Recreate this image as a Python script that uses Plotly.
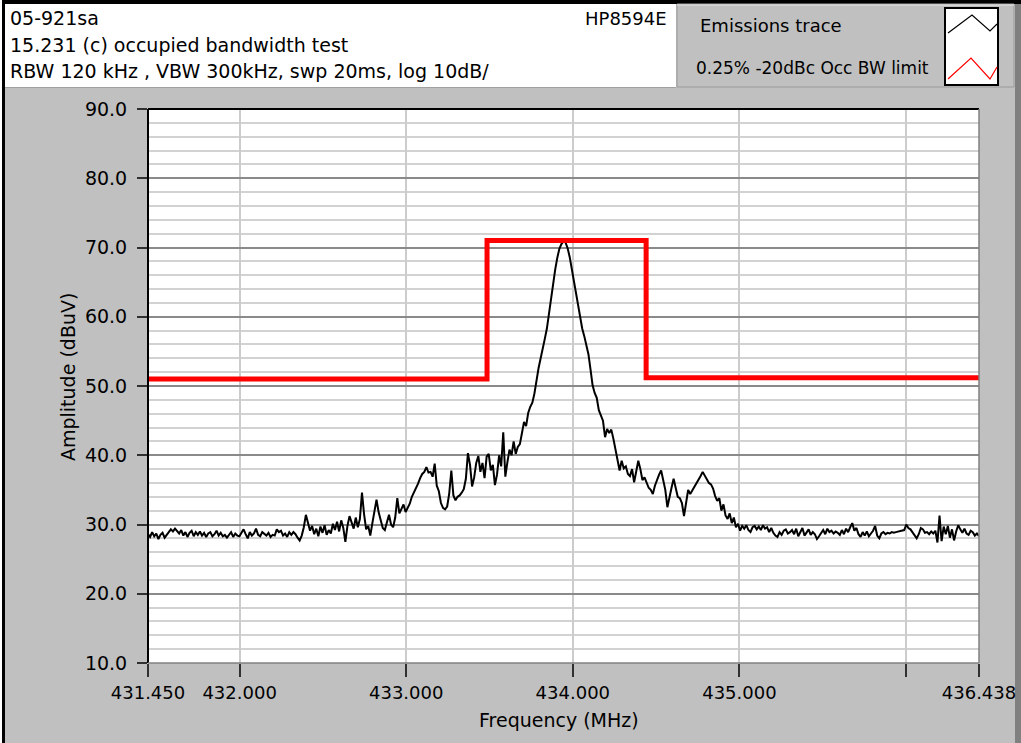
import numpy as np
import plotly.graph_objects as go

# ---------------- data ----------------
F_START = 431.450
F_STOP = 436.438
N_POINTS = 401

emissions_dbuv = [
    28.6, 28.2, 28.9, 28.3, 28.7, 27.9, 28.5, 28.8, 28.1, 28.6,
    28.9, 29.3, 29.0, 29.4, 29.1, 28.7, 29.2, 28.4, 28.9, 28.2,
    28.8, 29.1, 28.3, 28.9, 28.5, 29.0, 28.4, 28.8, 28.2, 28.7,
    28.9, 28.3, 28.6, 29.1, 28.4, 28.8, 28.3, 28.5, 28.1, 28.6,
    28.9, 28.2, 28.7, 28.4, 28.3, 28.8, 29.3, 28.6, 28.0, 28.9,
    28.4, 28.7, 29.4, 28.5, 28.3, 28.9, 28.6, 28.4, 28.8, 28.2,
    28.5, 28.4, 29.3, 28.9, 29.1, 28.4, 28.7, 28.2, 28.9, 28.5,
    28.9, 28.6, 28.1, 27.7, 28.4, 29.6, 31.4, 30.2, 29.1, 29.8,
    28.6, 29.4, 28.3, 29.7, 28.8, 29.9, 28.5, 29.2, 28.7, 30.1,
    29.2, 30.4, 29.0, 30.6, 29.5, 27.5, 29.8, 31.2, 30.1, 29.4,
    31.0, 29.6, 30.8, 34.6, 31.5, 29.3, 29.8, 28.4, 30.2, 31.9,
    33.6, 31.8, 30.4, 29.5, 29.2, 30.3, 31.4, 30.0, 29.6, 31.0,
    33.8, 31.6, 32.2, 32.9, 31.8, 32.4, 33.0, 34.0, 34.6, 35.2,
    35.9, 36.7, 37.3, 37.6, 38.3, 37.5, 37.6, 36.9, 38.8, 35.6,
    34.8, 33.1, 32.4, 32.2, 32.6, 34.5, 37.8, 34.2, 33.5, 34.0,
    34.2, 34.6, 35.1, 36.6, 40.3, 38.6, 35.5, 36.8, 38.9, 39.9,
    37.6, 38.9, 36.7, 39.8, 40.2, 37.8, 38.6, 35.7, 37.2, 40.0,
    38.4, 43.3, 36.9, 39.0, 40.8, 40.0, 42.0, 40.2, 41.2, 41.6,
    43.1, 44.8, 44.2, 46.1, 47.0, 47.6, 48.9, 51.0, 52.6, 54.0,
    55.2, 56.8, 58.3, 60.5, 62.8, 65.0, 66.8, 68.5, 69.8, 70.5,
    70.9, 70.7, 69.9, 68.6, 66.9, 65.0, 63.4, 61.6, 59.8, 58.3,
    57.2, 56.1, 54.6, 52.4, 50.1, 49.0, 48.3, 46.5, 45.6, 45.0,
    42.6, 43.8, 43.2, 43.7, 42.4, 41.0, 39.6, 37.8, 39.2, 38.1,
    38.4, 37.3, 37.0, 38.0, 36.1, 37.6, 39.2, 38.0, 36.4, 36.8,
    35.9, 35.3, 35.0, 34.4, 35.6, 36.5, 37.2, 37.8, 36.2, 35.0,
    32.5, 34.2, 35.3, 36.6, 35.1, 34.0, 33.8, 33.1, 31.2, 33.4,
    35.0, 34.4, 34.9, 35.3, 35.8, 36.4, 37.0, 37.6, 37.0, 36.5,
    36.0, 35.8, 35.2, 34.1, 33.4, 33.8, 32.0, 32.9, 31.3, 30.8,
    31.6, 30.2, 31.0, 29.6, 30.1, 29.1, 29.8, 29.4, 29.9, 29.2,
    28.9, 29.6, 29.8, 29.3, 29.7, 29.2, 29.9, 29.4, 29.6, 28.9,
    29.5, 28.8, 28.4, 28.2, 28.9, 28.5, 29.1, 29.3, 28.7, 28.9,
    29.2, 28.6, 29.4, 28.3, 29.0, 29.5, 28.4, 28.8, 29.3, 28.5,
    28.9, 28.6, 27.9, 28.3, 28.8, 29.2, 28.6, 29.4, 28.9, 29.1,
    28.7, 29.0, 28.8, 28.5, 29.2, 28.6, 29.4, 28.9, 29.6, 30.2,
    29.1, 29.5, 28.6, 28.2, 28.9, 28.4, 29.0, 28.3, 28.7, 29.1,
    29.8, 28.4, 28.0, 28.7, 28.9, 28.6, 28.8, 28.7, 28.9, 28.8,
    28.9, 29.0, 29.0, 29.1, 29.2, 30.0, 29.5, 29.3, 28.8, 28.4,
    28.0, 28.6, 29.5, 29.3, 28.8, 28.9, 28.6, 29.0, 28.7, 29.1,
    27.4, 31.3, 27.6, 29.7, 28.6, 29.8, 28.1, 29.3, 27.7, 29.0,
    29.9, 29.3, 28.8, 29.4, 28.7, 28.5, 29.1, 28.9, 28.4, 28.7, 28.3,
]

limit_freq_mhz = [431.450, 433.485, 433.485, 434.440, 434.440, 436.438]
limit_dbuv = [51.0, 51.0, 71.0, 71.0, 51.2, 51.2]

x_tick_vals = [431.450, 432.0, 433.0, 434.0, 435.0, 436.0, 436.438]
x_tick_text = ["431.450", "432.000", "433.000", "434.000", "435.000", "", "436.438"]
y_tick_vals = [10, 20, 30, 40, 50, 60, 70, 80, 90]

header_lines = [
    "05-921sa",
    "15.231 (c) occupied bandwidth test",
    "RBW 120 kHz , VBW 300kHz, swp 20ms, log 10dB/",
]
instrument = "HP8594E"
legend_names = ["Emissions trace", "0.25% -20dBc Occ BW limit"]

freq_mhz = np.linspace(F_START, F_STOP, N_POINTS)

# ---------------- layout geometry (pixels) ----------------
W_PX, H_PX = 1021, 743
L, R, T, B = 148, 979, 109, 663
PW, PH = R - L, B - T


def px(x):
    return (x - L) / PW


def py(y):
    return (B - y) / PH


FONT = "DejaVu Sans"
GRAY = "#c0c0c0"

fig = go.Figure()
fig.add_trace(go.Scatter(
    x=freq_mhz, y=emissions_dbuv, mode="lines", name=legend_names[0],
    line=dict(color="black", width=2), showlegend=False,
))
fig.add_trace(go.Scatter(
    x=limit_freq_mhz, y=limit_dbuv, mode="lines", name=legend_names[1],
    line=dict(color="#ff0000", width=5), showlegend=False,
))

shapes = []


def rect(x0, y0, x1, y1, fill, line_color=None, lw=0, layer="above"):
    shapes.append(dict(
        type="rect", xref="paper", yref="paper",
        x0=px(x0), x1=px(x1), y0=py(y1), y1=py(y0),
        fillcolor=fill, line=dict(color=line_color or fill, width=lw),
        layer=layer,
    ))


def line(x0, y0, x1, y1, color, lw, layer="above"):
    shapes.append(dict(
        type="line", xref="paper", yref="paper",
        x0=px(x0), x1=px(x1), y0=py(y0), y1=py(y1),
        line=dict(color=color, width=lw), layer=layer,
    ))


# outer frame
rect(0, 0, 2, 743, "white")
rect(2, 0, 1021, 4, "black")
rect(2, 0, 5, 743, "black")
rect(1015, 4, 1021, 743, "#808080", layer="below")
# header box
rect(5, 4, 676, 87, "white")
line(5, 87.5, 676, 87.5, "#a0a0a0", 1)
# legend box
rect(677, 4, 1014, 87, GRAY, "#9a9a9a", 1)
line(677, 5, 1014, 5, "#e8e8e8", 1)
rect(945, 8, 998, 85, "white", "black", 2)
shapes.append(dict(
    type="path", xref="paper", yref="paper",
    path="M {},{} L {},{} L {},{} L {},{}".format(
        px(948), py(33), px(972), py(15), px(990), py(31), px(997), py(24)),
    line=dict(color="black", width=1.2),
))
shapes.append(dict(
    type="path", xref="paper", yref="paper",
    path="M {},{} L {},{} L {},{} L {},{}".format(
        px(948), py(79), px(971), py(58), px(990), py(79), px(997), py(67)),
    line=dict(color="#ff0000", width=1.2),
))
# plot frame
line(L, T, R, T, "black", 2)
line(L, T, L, B, "black", 2)
line(R, T, R, B, "#808080", 1.5)
line(L, B, R, B, "#808080", 1.5)

annotations = []


def text(x, y, s, size, xanchor="left", angle=0):
    annotations.append(dict(
        xref="paper", yref="paper", x=px(x), y=py(y), text=s,
        showarrow=False, xanchor=xanchor, yanchor="middle",
        textangle=angle, font=dict(family=FONT, size=size, color="black"),
    ))


text(8, 18, header_lines[0], 19)
text(8, 45, header_lines[1], 19)
text(8, 71, header_lines[2], 19)
text(669, 18, instrument, 18, xanchor="right")
text(698, 25, legend_names[0], 18)
text(694, 68, legend_names[1], 17)
text(68, 377, "Amplitude (dBuV)", 19, xanchor="center", angle=-90)
text(559, 720, "Frequency (MHz)", 19, xanchor="center")

fig.update_layout(
    width=W_PX, height=H_PX, autosize=False,
    margin=dict(l=L, r=W_PX - R, t=T, b=H_PX - B, pad=0, autoexpand=False),
    paper_bgcolor=GRAY, plot_bgcolor="white",
    shapes=shapes, annotations=annotations,
    showlegend=False,
    font=dict(family=FONT, size=19, color="black"),
)
fig.update_xaxes(
    range=[F_START, F_STOP], tickvals=x_tick_vals, ticktext=x_tick_text,
    showgrid=True, gridcolor="#cccccc", gridwidth=2,
    ticks="outside", ticklen=13, tickwidth=2, tickcolor="#303030",
    showline=False, zeroline=False, automargin=False,
    tickfont=dict(family=FONT, size=18, color="black"),
)
fig.update_yaxes(
    range=[10, 90], tickvals=y_tick_vals, tickformat=".1f",
    showgrid=True, gridcolor="#8a8a8a", gridwidth=1.5,
    minor=dict(dtick=2, showgrid=True, gridcolor="#d2d2d2", gridwidth=2, ticks=""),
    ticks="outside", ticklen=10, tickwidth=2, tickcolor="#303030",
    ticklabelstandoff=6,
    showline=False, zeroline=False, automargin=False,
    tickfont=dict(family=FONT, size=19, color="black"),
)

fig.write_html(
    "out.html",
    config={"displayModeBar": False, "responsive": False},
    post_script="document.body.style.margin='0';document.body.style.overflow='hidden';",
)
